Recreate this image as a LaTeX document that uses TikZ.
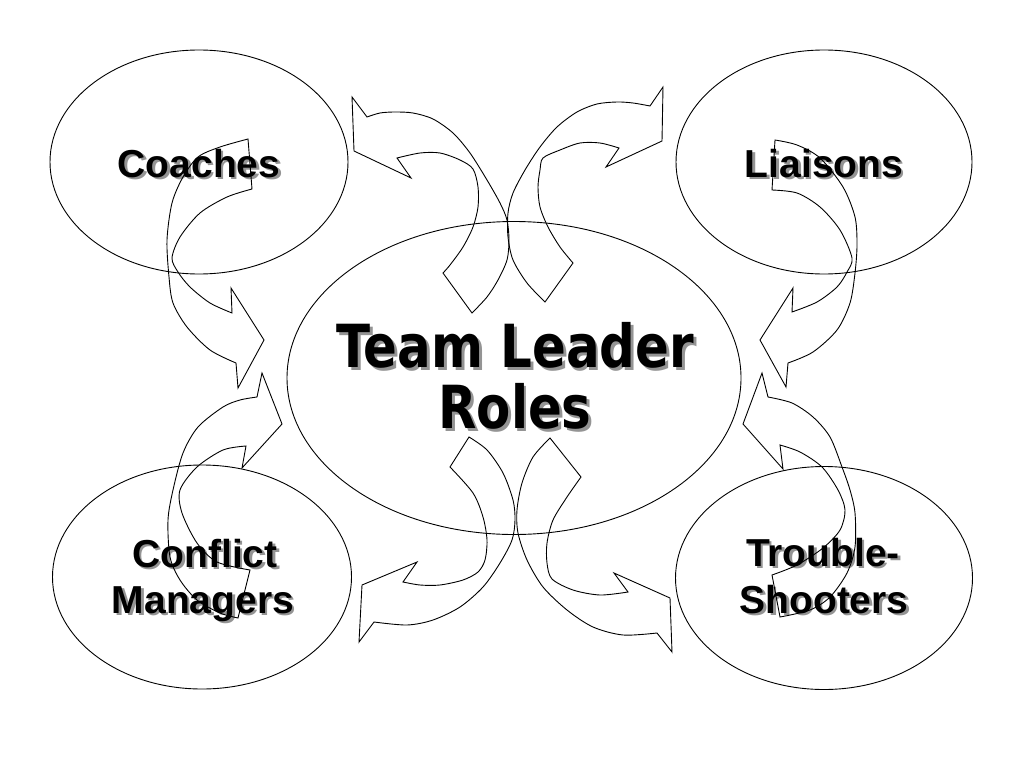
\documentclass[tikz,border=0pt]{standalone}
\usepackage{fontspec}
\setmainfont{Liberation Sans}
\newfontfamily\headfont{DejaVu Sans}
\usetikzlibrary{shapes.geometric}
\newcommand\shadowed[2]{\makebox[0pt][l]{\hspace{#1}\raisebox{-#1}{\textcolor{black!42}{#2}}}#2}
\begin{document}
\begin{tikzpicture}[x=1pt,y=-1pt,
  bubble/.style={draw, ellipse, inner sep=0pt, line width=0.9pt},
  blockarrow/.style={draw, line width=0.9pt, line join=miter},
  lbl/.style={font=\bfseries\fontsize{39}{47}\selectfont, anchor=base, inner sep=0pt},
  biglbl/.style={font=\headfont\bfseries\fontsize{59.4}{64}\selectfont, anchor=base, inner sep=0pt}
]
\useasboundingbox (0,0) rectangle (1024,768);

% ellipses
\node[bubble, minimum width=298pt, minimum height=224pt] (coachesE) at (199,162) {};
\node[bubble, minimum width=296pt, minimum height=224pt] (liaisonsE) at (824,162) {};
\node[bubble, minimum width=454pt, minimum height=313pt] (centerE) at (514,378) {};
\node[bubble, minimum width=299pt, minimum height=224pt] (conflictE) at (202,577) {};
\node[bubble, minimum width=297pt, minimum height=223pt] (troubleE) at (824,578) {};

% labels (with drop shadow)
\node[lbl] (coaches) at (199,177) {\shadowed{2.5pt}{Coaches}};
\node[lbl] (liaisons) at (824,177) {\shadowed{2.5pt}{Liaisons}};
\node[biglbl] (team) at (515,367) {\scalebox{0.84}[1]{\shadowed{3.5pt}{Team Leader}}};
\node[biglbl] (roles) at (515,428) {\scalebox{0.84}[1]{\shadowed{3.5pt}{Roles}}};
\node[lbl] (conflict) at (205,567) {\shadowed{2.5pt}{Conflict}};
\node[lbl] (managers) at (203,613) {\shadowed{2.5pt}{Managers}};
\node[lbl] (trouble) at (823,566) {\shadowed{2.5pt}{Trouble-}};
\node[lbl] (shooters) at (824,613) {\shadowed{2.5pt}{Shooters}};

% arrow 1: centre -> Coaches
\draw[blockarrow] (354,151) -- (352,97) -- plot[smooth] coordinates {(367,117) (380,113) (395,112) (413,113) (433,119) (453,133) (470,153) (487,180) (500,203) (507,220) (509,240) (507,260) (498,280) (487,297) (472,313)}
  -- plot[smooth] coordinates {(443,273) (450,265) (463,247) (473,227) (478,207) (478,187) (473,169) (460,160) (440,153) (420,153) (397,158)}
  -- (411,178) -- cycle;

% arrow 2: centre -> Liaisons
\draw[blockarrow] (662,141) -- (663,87) -- plot[smooth] coordinates {(650,106) (633,103) (617,102) (597,104) (577,112) (557,127) (540,147) (525,170) (513,193) (508,213) (508,237) (513,260) (527,283) (545,302)}
  -- plot[smooth] coordinates {(573,263) (560,247) (548,227) (540,207) (538,187) (540,170) (543,158) (560,150) (580,143) (600,143) (619,148)}
  -- (606,167) -- cycle;

% arrow 3: centre -> Conflict Managers
\draw[blockarrow] (362,585) -- (359,642) -- plot[smooth] coordinates {(374,622) (407,625) (433,620) (460,607) (483,587) (500,563) (512,540) (515,520) (513,500) (503,473) (487,450) (469,437)}
  -- plot[smooth] coordinates {(450,467) (473,493) (483,517) (487,540) (485,560) (478,572) (463,580) (440,585) (420,585) (403,582)}
  -- (417,562) -- cycle;

% arrow 4: centre -> Trouble-Shooters
\draw[blockarrow] (670,598) -- (672,652) -- plot[smooth] coordinates {(657,633) (623,635) (593,627) (567,610) (543,587) (527,560) (518,533) (517,510) (522,483) (533,457) (550,438)}
  -- plot[smooth] coordinates {(581,477) (567,497) (553,520) (547,543) (547,563) (552,579) (573,590) (600,595) (628,592)}
  -- (614,573) -- cycle;

% arrow 5: Coaches -> centre
\draw[blockarrow] (264,340) -- (238,388) -- plot[smooth] coordinates {(236,363) (210,350) (187,327) (173,303) (169,277) (167,240) (172,203) (183,177) (198,157) (220,147) (248,139)}
  -- plot[smooth] coordinates {(252,189) (227,197) (200,213) (180,237) (172,258) (178,272) (190,287) (210,303) (232,313)}
  -- (231,288) -- cycle;

% arrow 6: Conflict Managers -> centre
\draw[blockarrow] (282,424) -- (262,373) -- plot[smooth] coordinates {(257,397) (240,400) (223,407) (198,427) (183,453) (173,490) (168,520) (170,557) (180,580) (197,600) (220,613) (238,618)}
  -- plot[smooth] coordinates {(250,570) (217,562) (197,543) (182,513) (180,490) (197,467) (223,450) (246,446)}
  -- (242,468) -- cycle;

% arrow 7: Liaisons -> centre
\draw[blockarrow] (760,340) -- (786,387) -- plot[smooth] coordinates {(788,363) (813,352) (837,330) (850,303) (855,273) (857,245) (855,217) (843,187) (820,158) (797,145) (775,140)}
  -- plot[smooth] coordinates {(772,190) (797,193) (820,207) (840,230) (852,258) (847,272) (837,287) (817,302) (792,312)}
  -- (793,288) -- cycle;

% arrow 8: Trouble-Shooters -> centre
\draw[blockarrow] (743,424) -- (762,373) -- plot[smooth] coordinates {(768,397) (792,403) (813,417) (830,437) (842,467) (850,490) (855,513) (855,547) (847,573) (830,597) (810,610) (780,617)}
  -- plot[smooth] coordinates {(772,575) (797,565) (823,548) (840,530) (845,510) (838,490) (822,467) (800,452) (780,445)}
  -- (783,469) -- cycle;
\end{tikzpicture}
\end{document}
